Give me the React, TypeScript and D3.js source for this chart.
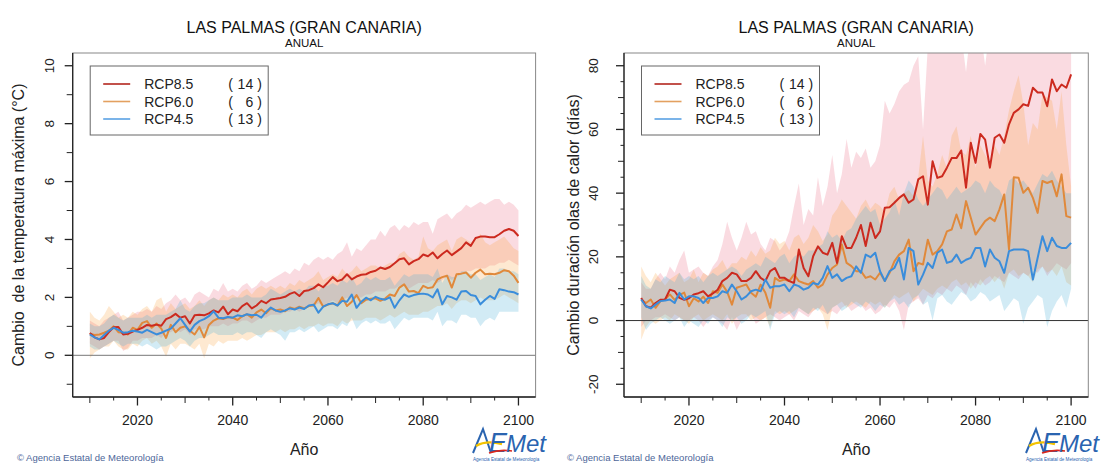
import React from "react";
import * as d3 from "d3";

// ---------- categories / ticks ----------
const YEARS = d3.range(2010, 2101);
const X_TICKS_LABEL = [2020, 2040, 2060, 2080, 2100];
const X_TICKS_MID = [2010, 2030, 2050, 2070, 2090];
const X_TICKS_SMALL = [2015, 2025, 2035, 2045, 2055, 2065, 2075, 2085, 2095];

const TITLE = "LAS PALMAS (GRAN CANARIA)";
const SUBTITLE = "ANUAL";
const X_TITLE = "Año";
const SCENARIOS = ["RCP8.5", "RCP6.0", "RCP4.5"];
const MODEL_COUNTS = [14, 6, 13];
const FOOTER = "© Agencia Estatal de Meteorología";

// ---------- left panel: max temperature change (°C) ----------
const T_YLIM = [-1, 10];
const T_TICKS_LABEL = [0, 2, 4, 6, 8, 10];
const T_TICKS_MINOR = [-1, 1, 3, 5, 7, 9];

const T_85 = [
  0.77, 0.62, 0.55, 0.60, 0.80, 0.97, 0.98, 0.72, 0.74, 0.82,
  0.88, 0.95, 1.05, 1.02, 1.06, 1.02, 1.25, 1.32, 1.43, 1.30,
  1.35, 1.10, 1.38, 1.40, 1.38, 1.45, 1.55, 1.48, 1.68, 1.42,
  1.58, 1.52, 1.70, 1.80, 1.62, 1.72, 1.88, 1.80, 1.93, 1.95,
  1.98, 2.02, 2.12, 2.18, 2.05, 2.22, 2.25, 2.32, 2.45, 2.35,
  2.52, 2.70, 2.56, 2.62, 2.80, 2.62, 2.72, 2.78, 2.80, 2.88,
  2.92, 3.03, 2.98, 3.05, 3.18, 3.32, 3.35, 3.14, 3.25, 3.32,
  3.48, 3.42, 3.55, 3.35, 3.50, 3.62, 3.46, 3.58, 3.70, 3.90,
  3.78, 4.05, 4.10, 4.10, 4.08, 4.08, 4.18, 4.30, 4.36, 4.30,
  4.12,
];
const T_85_HI = [
  1.2, 1.1, 1.0, 1.2, 1.3, 1.4, 1.5, 1.2, 1.3, 1.4,
  1.5, 1.5, 1.6, 1.5, 1.7, 1.6, 1.8, 1.9, 2.1, 1.9,
  2.0, 1.8, 2.1, 2.2, 2.1, 2.0, 2.3, 2.2, 2.5, 2.2,
  2.3, 2.2, 2.4, 2.5, 2.3, 2.4, 2.6, 2.5, 2.6, 2.7,
  2.8, 2.9, 2.8, 3.0, 2.9, 3.2, 3.1, 3.3, 3.4, 3.3,
  3.4, 3.3, 3.5, 3.6, 3.9, 3.4, 3.7, 3.6, 3.8, 4.0,
  4.0, 4.3, 4.1, 4.4, 4.5, 4.3, 4.5, 4.4, 4.6, 4.5,
  4.6, 4.6, 4.2, 4.7, 4.8, 4.9, 4.7, 4.9, 5.0, 5.2,
  5.1, 5.2, 5.3, 5.2, 5.3, 5.4, 5.4, 5.2, 5.3, 5.2,
  5.0,
];
const T_85_LO = [
  0.4, 0.3, 0.2, 0.3, 0.4, 0.5, 0.5, 0.15, 0.25, 0.5,
  0.5, 0.6, 0.6, 0.6, 0.7, 0.6, 0.8, 0.8, 0.9, 0.8,
  0.9, 0.7, 0.9, 0.9, 0.9, 1.0, 1.0, 1.0, 1.1, 1.0,
  1.1, 1.1, 1.2, 1.2, 1.1, 1.2, 1.3, 1.3, 1.4, 1.4,
  1.4, 1.5, 1.5, 1.6, 1.5, 1.6, 1.7, 1.7, 1.8, 1.7,
  1.8, 1.9, 1.8, 1.9, 2.0, 1.9, 2.0, 2.0, 2.1, 2.1,
  2.2, 2.2, 2.2, 2.3, 2.3, 2.4, 2.4, 2.3, 2.4, 2.5,
  2.5, 2.5, 2.6, 2.5, 2.6, 2.7, 2.6, 2.7, 2.8, 2.9,
  2.9, 3.0, 3.0, 3.0, 3.1, 3.1, 3.2, 3.2, 3.3, 3.2,
  3.1,
];
const T_60 = [
  0.75, 0.70, 0.72, 0.78, 0.85, 1.00, 0.80, 0.78, 0.72, 0.95,
  0.88, 1.12, 1.18, 0.95, 1.10, 0.92, 0.60, 1.05, 0.80, 0.95,
  1.00, 0.85, 0.72, 0.98, 0.62, 1.05, 1.20, 1.28, 1.25, 1.32,
  1.30, 1.22, 1.35, 1.42, 1.30, 1.48, 1.58, 1.45, 1.62, 1.55,
  1.58, 1.52, 1.65, 1.60, 1.68, 1.62, 1.70, 1.72, 1.98, 1.68,
  1.75, 1.80, 1.72, 2.00, 1.70, 1.85, 2.08, 1.80, 1.92, 1.95,
  1.97, 1.88, 1.96, 2.10, 2.05, 2.34, 2.45, 2.20, 2.22, 2.15,
  2.40, 2.32, 2.35, 2.62, 2.70, 2.75, 2.34, 2.80, 2.82, 2.86,
  2.68, 2.85, 2.96, 2.80, 2.82, 2.80, 2.85, 2.94, 2.90, 2.75,
  2.50,
];
const T_60_HI = [
  1.5, 1.3, 1.2, 1.4, 1.7, 1.5, 1.3, 1.4, 1.3, 1.5,
  1.4, 1.6, 1.7, 1.5, 1.9, 2.0, 1.5, 1.8, 1.6, 1.7,
  1.8, 1.6, 1.7, 1.9, 1.7, 1.9, 2.0, 1.9, 2.1, 2.0,
  2.1, 2.0, 2.2, 2.3, 2.1, 2.3, 2.4, 2.3, 2.4, 2.3,
  2.4, 2.3, 2.5, 2.4, 2.6, 2.5, 2.6, 2.7, 2.9, 2.6,
  2.7, 2.8, 2.7, 3.0, 2.8, 2.9, 3.1, 2.9, 3.0, 3.1,
  3.1, 3.0, 3.1, 3.2, 3.2, 3.5, 3.6, 3.4, 3.3, 3.4,
  4.1, 3.7, 3.6, 3.8, 3.9, 4.0, 3.6, 4.0, 4.1, 4.0,
  3.9, 4.0, 4.2, 3.9, 3.8, 3.9, 4.0, 4.1, 3.9, 3.7,
  3.6,
];
const T_60_LO = [
  -0.1, 0.1, 0.2, 0.3, 0.3, 0.5, 0.3, 0.2, 0.2, 0.4,
  0.3, 0.5, 0.6, 0.4, 0.5, 0.3, -0.05, 0.4, 0.2, 0.4,
  0.4, 0.3, 0.2, 0.4, -0.1, 0.4, 0.3, 0.5, 0.4, 0.5,
  0.5, 0.5, 0.6, 0.5, 0.6, 0.7, 0.7, 0.8, 0.8, 0.8,
  0.9, 0.8, 0.9, 0.9, 1.0, 0.9, 1.0, 1.0, 1.1, 1.0,
  1.1, 1.1, 1.0, 1.2, 1.1, 1.2, 1.2, 1.2, 1.3, 1.3,
  1.3, 1.2, 1.3, 1.4, 1.3, 1.4, 1.5, 1.4, 1.4, 1.4,
  1.5, 1.5, 1.6, 1.7, 1.7, 1.8, 1.6, 1.8, 1.9, 1.9,
  1.8, 1.9, 2.0, 1.9, 1.9, 1.9, 2.0, 2.1, 2.0, 1.9,
  1.8,
];
const T_45 = [
  0.72, 0.62, 0.55, 0.70, 0.85, 0.95, 0.88, 0.78, 0.80, 0.85,
  0.82, 0.78, 0.88, 0.80, 0.72, 0.78, 0.85, 0.92, 1.10, 1.28,
  1.05, 0.82, 1.05, 1.18, 1.25, 1.35, 1.52, 1.30, 1.28, 1.32,
  1.30, 1.38, 1.35, 1.42, 1.38, 1.40, 1.30, 1.50, 1.65, 1.55,
  1.50, 1.55, 1.62, 1.58, 1.65, 1.60, 1.72, 1.75, 1.47, 1.68,
  1.76, 1.80, 1.72, 1.88, 1.85, 2.10, 1.64, 1.85, 1.99, 1.90,
  2.02, 1.95, 1.92, 2.00, 1.64, 1.90, 2.10, 2.02, 2.08, 2.12,
  2.13, 2.10, 2.00, 2.28, 1.76, 2.05, 2.00, 1.92, 2.20, 2.22,
  2.08, 2.05, 1.76, 1.92, 2.05, 1.95, 2.28, 2.25, 2.20, 2.18,
  2.10,
];
const T_45_HI = [
  1.1, 1.0, 1.0, 1.1, 1.3, 1.4, 1.3, 1.2, 1.3, 1.3,
  1.3, 1.3, 1.4, 1.3, 1.4, 1.4, 1.4, 1.5, 1.6, 1.9,
  1.6, 1.5, 1.7, 1.8, 1.8, 1.9, 2.0, 1.9, 1.9, 1.9,
  2.0, 2.0, 2.0, 2.1, 2.0, 2.0, 2.0, 2.1, 2.3, 2.2,
  2.1, 2.2, 2.3, 2.2, 2.3, 2.2, 2.4, 2.4, 2.2, 2.4,
  2.4, 2.5, 2.4, 2.6, 2.5, 2.7, 2.4, 2.5, 2.7, 2.6,
  2.7, 2.6, 2.6, 2.7, 2.4, 2.6, 2.8, 2.7, 2.8, 2.8,
  2.8, 2.8, 2.7, 3.0, 2.5, 2.8, 2.7, 2.7, 2.9, 2.9,
  2.8, 2.8, 2.6, 2.7, 2.8, 2.7, 3.0, 3.0, 2.9, 2.9,
  2.8,
];
const T_45_LO = [
  0.3, 0.2, 0.2, 0.3, 0.4, 0.5, 0.4, 0.3, 0.4, 0.4,
  0.4, 0.3, 0.4, 0.3, 0.2, 0.3, 0.3, 0.4, 0.5, 0.6,
  0.5, 0.3, 0.5, 0.6, 0.6, 0.7, 0.8, 0.7, 0.7, 0.7,
  0.7, 0.8, 0.7, 0.8, 0.8, 0.7, 0.6, 0.8, 0.9, 0.8,
  0.7, 0.5, 0.8, 0.8, 0.9, 0.8, 0.9, 1.0, 0.8, 0.9,
  1.0, 1.0, 0.9, 1.1, 1.0, 1.3, 0.9, 1.1, 1.2, 1.1,
  1.2, 1.1, 1.1, 1.2, 0.9, 1.1, 1.3, 1.2, 1.3, 1.3,
  1.3, 1.3, 1.2, 1.5, 1.0, 1.2, 1.2, 1.1, 1.4, 1.4,
  1.3, 1.3, 1.0, 1.2, 1.3, 1.2, 1.5, 1.5, 1.5, 1.5,
  1.5,
];

// ---------- right panel: heat wave duration change (days) ----------
const H_YLIM = [-20, 80];
const H_TICKS_LABEL = [-20, 0, 20, 40, 60, 80];
const H_TICKS_MID = [-10, 10, 30, 50, 70];
const H_TICKS_SMALL = [-15, -5, 5, 15, 25, 35, 45, 55, 65, 75];

const H_85 = [
  7.1, 4.5, 4.0, 5.5, 6.5, 6.6, 9.7, 9.2, 7.1, 6.5,
  7.0, 8.2, 8.6, 9.2, 7.6, 8.5, 9.7, 12.4, 13.4, 15.0,
  14.5, 12.4, 12.4, 13.4, 15.5, 13.4, 12.4, 15.5, 16.5, 13.4,
  13.4, 12.4, 11.8, 22.3, 16.5, 13.9, 20.2, 23.3, 21.3, 20.7,
  24.4, 18.1, 26.5, 22.8, 22.8, 26.0, 30.0, 23.4, 30.7, 25.9,
  28.0, 35.4, 35.6, 37.0, 38.5, 39.6, 37.0, 38.0, 44.3, 45.3,
  36.4, 50.0, 44.8, 45.3, 48.0, 51.0, 51.0, 53.4, 41.7, 55.8,
  49.5, 58.6, 56.8, 48.0, 57.4, 58.4, 55.8, 61.6, 65.2, 66.3,
  67.9, 67.4, 73.1, 71.6, 71.6, 67.3, 75.7, 72.0, 74.1, 73.1,
  77.3,
];
const H_85_HI = [
  12, 10, 10, 13, 15, 13, 17, 15, 19, 22,
  15, 16, 17, 15, 14, 17, 19, 24, 31, 26,
  22, 26, 31, 27, 28, 24, 22, 26, 25, 22,
  24, 28, 36, 43, 30, 35, 33, 45, 36, 42,
  52, 40, 46, 57, 48, 53, 51, 54, 48, 50,
  55, 69, 65, 68, 72, 74, 75, 80, 83, 60,
  86, 88, 90, 88, 90, 92, 90, 90, 78, 92,
  92, 92, 80, 92, 92, 92, 92, 92, 92, 92,
  92, 92, 92, 92, 92, 92, 92, 92, 92, 92,
  92,
];
const H_85_LO = [
  -2, 0, 0, 1, 1, 2, 1, 0, 1, 0,
  0, 1, 0, -2, 0, 1, 0, -1, -3, 1,
  -3, 0, 1, 2, -1, 0, 1, 2, 1, 0,
  1, 2, 0, 3, 2, 1, 3, 4, 3, 2,
  3, 2, 4, 5, 3, 4, 5, 3, 4, 2,
  3, 5, 4, 6, 3, -3, 5, 6, 7, 5,
  8, 7, 9, 8, 10, 9, 11, 10, 8, 12,
  10, 13, 11, 12, 14, 13, 12, 15, 14, 13,
  15, 14, 16, 15, 17, 14, 16, 18, 17, 16,
  18,
];
const H_60 = [
  6.6, 5.5, 6.6, 4.0, 6.0, 6.6, 8.2, 6.5, 8.0, 8.8,
  4.5, 7.0, 6.0, 7.5, 5.5, 9.2, 8.7, 11.3, 9.0, 5.0,
  10.3, 10.8, 11.3, 8.7, 7.5, 11.3, 8.7, 4.0, 13.4, 12.4,
  12.9, 12.4, 14.5, 12.4, 11.8, 11.3, 12.4, 10.3, 11.3, 14.4,
  16.5, 17.6, 23.9, 18.1, 17.1, 15.5, 15.5, 13.4, 13.9, 12.9,
  15.0, 12.4, 15.0, 18.6, 20.7, 21.8, 25.4, 15.5, 18.1, 17.6,
  25.4, 20.7, 21.8, 23.9, 28.0, 28.6, 33.3, 29.0, 37.5, 32.3,
  27.0, 29.1, 31.2, 32.3, 31.2, 34.9, 39.6, 22.3, 45.0, 44.8,
  40.1, 41.7, 38.5, 33.8, 43.8, 43.2, 43.8, 39.0, 45.9, 32.8,
  32.3,
];
const H_60_HI = [
  17, 14, 12, 15, 13, 11, 13, 14, 15, 12,
  13, 16, 12, 15, 14, 16, 17, 19, 16, 18,
  18, 20, 19, 22, 20, 23, 21, 22, 26, 24,
  25, 22, 26, 27, 24, 26, 30, 28, 25, 27,
  33, 35, 38, 36, 34, 32, 36, 38, 35, 37,
  36, 34, 40, 42, 38, 40, 41, 39, 45, 58,
  44, 42, 46, 52, 48, 58, 61, 53, 52, 58,
  48, 55, 52, 50, 55, 52, 58, 66, 72, 77,
  68, 55, 62, 60, 71, 70, 69, 60, 72, 55,
  42,
];
const H_60_LO = [
  -6, -2, 0, -1, 0, 1, 0, 2, 1, 0,
  -1, 1, 2, 0, 1, 2, 1, 0, 2, -1,
  1, 2, 2, 0, 1, 0, 1, -2, 3, 2,
  3, 2, 3, 4, 3, 2, 3, 4, 2, -3,
  4, 5, 6, 4, 5, 6, 5, 4, 6, 5,
  6, 4, 6, 8, 7, 8, 9, 6, 8, 10,
  9, 8, 10, 11, 10, 12, 13, 11, 12, 10,
  12, 11, 13, 14, 12, 14, 10, 15, 16, 14,
  15, 14, 12, 16, 17, 15, 16, 14, 17, 12,
  11,
];
const H_45 = [
  6.6, 4.5, 3.8, 5.0, 6.1, 6.3, 6.6, 5.5, 8.7, 6.6,
  7.6, 7.6, 7.1, 5.5, 7.1, 7.1, 7.6, 9.2, 8.7, 11.3,
  9.2, 6.6, 7.6, 9.2, 9.7, 9.2, 12.9, 10.3, 10.8, 10.8,
  11.3, 9.2, 11.3, 10.8, 9.7, 10.3, 11.8, 11.3, 13.4, 17.1,
  13.4, 14.5, 12.4, 13.4, 13.9, 17.0, 15.0, 20.7, 19.9, 21.3,
  15.5, 12.4, 15.5, 16.5, 19.7, 12.9, 22.8, 21.8, 11.3, 14.4,
  18.1, 16.5, 21.3, 22.3, 18.1, 18.6, 20.7, 18.1, 19.1, 19.7,
  22.8, 22.8, 17.0, 22.3, 19.7, 18.6, 15.0, 21.8, 22.3, 22.3,
  22.3, 21.8, 12.9, 19.7, 26.5, 21.8, 26.0, 23.4, 22.8, 22.8,
  24.4,
];
const H_45_HI = [
  14, 11, 10, 13, 12, 14, 13, 12, 15, 13,
  14, 13, 14, 12, 14, 15, 14, 15, 16, 17,
  16, 14, 16, 17, 18, 17, 20, 19, 18, 20,
  21, 18, 20, 21, 20, 22, 22, 23, 24, 28,
  26, 27, 25, 28, 29, 32, 34, 36, 34, 35,
  30, 32, 34, 38, 33, 40, 44, 42, 38, 36,
  38, 40, 42, 41, 38, 40, 42, 40, 41, 42,
  44, 43, 40, 44, 42, 41, 38, 44, 45, 43,
  44, 42, 40, 43, 46, 45, 47, 44, 42, 40,
  40,
];
const H_45_LO = [
  1, -3, -1, 0, 1, 0, -1, 0, 1, -2,
  0, -1, -2, 0, -1, 1, 0, -2, 1, 0,
  1, -1, 0, 2, 1, 2, 3, -3, 2, 3,
  2, 3, 1, 4, 3, 2, 4, 3, 5, 2,
  4, 5, 3, 4, 6, 5, 4, 6, 5, 3,
  5, 4, 6, 7, 5, 6, 4, 7, 8, 5,
  6, 0, 7, 8, 6, 5, 7, 9, 8, 6,
  7, 9, 8, 6, 7, 8, 3, 5, 7, 6,
  -1, 4, 6, 8, 7, -2, 3, 6, 8, 4,
  10,
];

// ---------- styles ----------
const FONT = "'Liberation Sans', Arial, Helvetica, sans-serif";
const LINE_COLORS = ["#cc2a1f", "#e0893b", "#3a8ddb"];
const LEGEND_COLORS = ["#b3261e", "#e3a060", "#5aa2e4"];
const BAND_COLORS = ["#ea6a82", "#f99a2c", "#4ab0d8"];
const BAND_OPACITY = [0.24, 0.22, 0.25];

const PLOT_TOP = 53;
const PLOT_BOTTOM = 397;

type SeriesSet = { mean: number[]; lo: number[]; hi: number[] }[];

function extend(lim: number[]) {
  const r = lim[1] - lim[0];
  return [lim[0] - 0.04 * r, lim[1] + 0.04 * r];
}

function Logo({ x, y }: { x: number; y: number }) {
  return (
    <g transform={`translate(${x},${y})`}>
      <path d="M1,25 L11,1 L19,25" fill="none" stroke="#2a64b0" strokeWidth={2} />
      <path d="M4,18 Q14,12 30,16" fill="none" stroke="#f3c300" strokeWidth={2.4} />
      <text x={17} y={24} fontFamily={FONT} fontSize={27} fontStyle="italic" fill="#2a64b0">E</text>
      <path d="M17,25 Q28,21 40,23" fill="none" stroke="#d9261c" strokeWidth={1.6} />
      <text x={34} y={24} fontFamily={FONT} fontSize={24} fontStyle="italic" fill="#2a64b0">Met</text>
      <text x={1} y={33} fontFamily={FONT} fontSize={4.6} fill="#2a64b0">Agencia Estatal de Meteorología</text>
    </g>
  );
}

function Panel(props: {
  boxL: number;
  boxR: number;
  ylim: number[];
  yLabelTicks: number[];
  yMidTicks: number[];
  ySmallTicks: number[];
  yTitle: string;
  yTickLabelX: number;
  yTitleX: number;
  zeroColor: string;
  series: SeriesSet;
  clipId: string;
  footerX: number;
  logoX: number;
}) {
  const { boxL, boxR, ylim, series, clipId } = props;
  const x = d3.scaleLinear().domain(extend([2010, 2100])).range([boxL, boxR]);
  const y = d3.scaleLinear().domain(extend(ylim)).range([PLOT_BOTTOM, PLOT_TOP]);
  const cx = (boxL + boxR) / 2;
  const cy = (PLOT_TOP + PLOT_BOTTOM) / 2;

  const area = (lo: number[], hi: number[]) =>
    d3
      .area<number>()
      .x((_, i) => x(YEARS[i]))
      .y0((_, i) => y(lo[i]))
      .y1((_, i) => y(hi[i]))(YEARS) || "";
  const line = (v: number[]) =>
    d3
      .line<number>()
      .x((_, i) => x(YEARS[i]))
      .y((_, i) => y(v[i]))(YEARS) || "";

  const legL = boxL + 17.5;
  const legT = 66;
  const rowY = [84, 101.5, 119];

  return (
    <g>
      <defs>
        <clipPath id={clipId}>
          <rect x={boxL} y={PLOT_TOP} width={boxR - boxL} height={PLOT_BOTTOM - PLOT_TOP} />
        </clipPath>
      </defs>
      {/* titles */}
      <text x={cx} y={32.5} textAnchor="middle" fontFamily={FONT} fontSize={16} fill="#111">{TITLE}</text>
      <text x={cx} y={47} textAnchor="middle" fontFamily={FONT} fontSize={11.5} fill="#111">{SUBTITLE}</text>

      {/* data */}
      <g clipPath={`url(#${clipId})`}>
        {series.map((s, i) => (
          <path key={"b" + i} d={area(s.lo, s.hi)} fill={BAND_COLORS[i]} fillOpacity={BAND_OPACITY[i]} stroke="none" />
        ))}
        <line x1={boxL} x2={boxR} y1={y(0)} y2={y(0)} stroke={props.zeroColor} strokeWidth={1} />
        {[1, 0, 2].map((i) => (
          <path key={"l" + i} d={line(series[i].mean)} fill="none" stroke={LINE_COLORS[i]} strokeWidth={2} strokeLinejoin="round" />
        ))}
      </g>

      {/* box */}
      <rect x={boxL} y={PLOT_TOP} width={boxR - boxL} height={PLOT_BOTTOM - PLOT_TOP} fill="none" stroke="#888" strokeWidth={1} />
      <line x1={boxL} x2={boxL} y1={PLOT_TOP} y2={PLOT_BOTTOM} stroke="#222" strokeWidth={1.3} />
      <line x1={boxL} x2={boxR} y1={PLOT_BOTTOM} y2={PLOT_BOTTOM} stroke="#222" strokeWidth={1.3} />

      {/* x axis */}
      {X_TICKS_LABEL.map((t) => (
        <g key={"xl" + t}>
          <line x1={x(t)} x2={x(t)} y1={PLOT_BOTTOM} y2={PLOT_BOTTOM + 8.5} stroke="#222" strokeWidth={1.3} />
          <text x={x(t)} y={425} textAnchor="middle" fontFamily={FONT} fontSize={14} fill="#222">{t}</text>
        </g>
      ))}
      {X_TICKS_MID.map((t) => (
        <line key={"xm" + t} x1={x(t)} x2={x(t)} y1={PLOT_BOTTOM} y2={PLOT_BOTTOM + 6} stroke="#222" strokeWidth={1} />
      ))}
      {X_TICKS_SMALL.map((t) => (
        <line key={"xs" + t} x1={x(t)} x2={x(t)} y1={PLOT_BOTTOM} y2={PLOT_BOTTOM + 3.5} stroke="#222" strokeWidth={1} />
      ))}
      <text x={cx} y={455} textAnchor="middle" fontFamily={FONT} fontSize={16} fill="#222">{X_TITLE}</text>

      {/* y axis */}
      {props.yLabelTicks.map((t) => (
        <g key={"yl" + t}>
          <line x1={boxL - 8} x2={boxL} y1={y(t)} y2={y(t)} stroke="#222" strokeWidth={1.3} />
          <text
            transform={`translate(${props.yTickLabelX},${y(t)}) rotate(-90)`}
            textAnchor="middle"
            fontFamily={FONT}
            fontSize={13.5}
            fill="#222"
          >
            {t}
          </text>
        </g>
      ))}
      {props.yMidTicks.map((t) => (
        <line key={"ym" + t} x1={boxL - 6} x2={boxL} y1={y(t)} y2={y(t)} stroke="#222" strokeWidth={1} />
      ))}
      {props.ySmallTicks.map((t) => (
        <line key={"ys" + t} x1={boxL - 3.5} x2={boxL} y1={y(t)} y2={y(t)} stroke="#222" strokeWidth={1} />
      ))}
      <text
        transform={`translate(${props.yTitleX},${cy}) rotate(-90)`}
        textAnchor="middle"
        fontFamily={FONT}
        fontSize={16}
        fill="#222"
        style={{ whiteSpace: "pre" }}
      >
        {props.yTitle}
      </text>

      {/* legend */}
      <rect x={legL} y={legT} width={178} height={69} fill="#fff" stroke="#666" strokeWidth={1} />
      {SCENARIOS.map((name, i) => (
        <g key={"lg" + i}>
          <line x1={legL + 13} x2={legL + 40} y1={rowY[i]} y2={rowY[i]} stroke={LEGEND_COLORS[i]} strokeWidth={1.6} />
          <text x={legL + 54} y={rowY[i] + 5} fontFamily={FONT} fontSize={14} fill="#222">{name}</text>
          <text x={legL + 138} y={rowY[i] + 5} fontFamily={FONT} fontSize={14} fill="#222">(</text>
          <text x={legL + 163} y={rowY[i] + 5} textAnchor="end" fontFamily={FONT} fontSize={14} fill="#222">{MODEL_COUNTS[i]}</text>
          <text x={legL + 167} y={rowY[i] + 5} fontFamily={FONT} fontSize={14} fill="#222">)</text>
        </g>
      ))}

      {/* footer */}
      <text x={props.footerX} y={461} fontFamily={FONT} fontSize={9.5} fill="#4d6699">{FOOTER}</text>
      <Logo x={props.logoX} y={428} />
    </g>
  );
}

export default function App() {
  const tempSeries: SeriesSet = [
    { mean: T_85, lo: T_85_LO, hi: T_85_HI },
    { mean: T_60, lo: T_60_LO, hi: T_60_HI },
    { mean: T_45, lo: T_45_LO, hi: T_45_HI },
  ];
  const hwSeries: SeriesSet = [
    { mean: H_85, lo: H_85_LO, hi: H_85_HI },
    { mean: H_60, lo: H_60_LO, hi: H_60_HI },
    { mean: H_45, lo: H_45_LO, hi: H_45_HI },
  ];
  return (
    <svg
      width={1103}
      height={463}
      style={{ position: "absolute", left: 0, top: 0, background: "#fff" }}
    >
      <rect x={0} y={0} width={1103} height={463} fill="#fff" />
      <Panel
        boxL={72.7}
        boxR={535.6}
        ylim={T_YLIM}
        yLabelTicks={T_TICKS_LABEL}
        yMidTicks={T_TICKS_MINOR}
        ySmallTicks={[]}
        yTitle={"Cambio  de la temperatura máxima (°C)"}
        yTickLabelX={54}
        yTitleX={24}
        zeroColor="#777"
        series={tempSeries}
        clipId="clipT"
        footerX={17}
        logoX={472}
      />
      <Panel
        boxL={624}
        boxR={1088.3}
        ylim={H_YLIM}
        yLabelTicks={H_TICKS_LABEL}
        yMidTicks={H_TICKS_MID}
        ySmallTicks={H_TICKS_SMALL}
        yTitle={"Cambio duración olas de calor (días)"}
        yTickLabelX={598}
        yTitleX={579}
        zeroColor="#333"
        series={hwSeries}
        clipId="clipH"
        footerX={567}
        logoX={1025}
      />
    </svg>
  );
}
